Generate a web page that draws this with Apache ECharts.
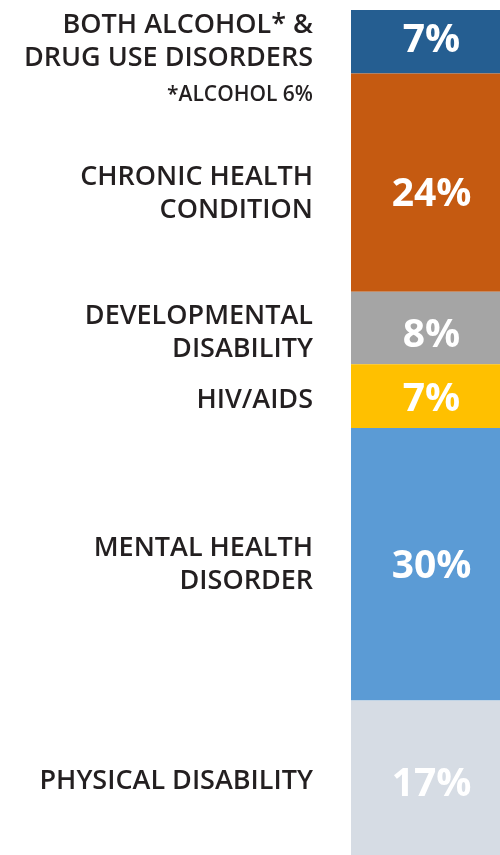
<!DOCTYPE html>
<html>
<head>
<meta charset="utf-8">
<script src="https://cdn.jsdelivr.net/npm/echarts@6/dist/echarts.min.js"></script>
<style>
  html, body { margin: 0; padding: 0; background: #fff; }
  #chart { width: 500px; height: 855px; }
</style>
</head>
<body>
<div id="chart"></div>
<script>
const categories = [
  'BOTH ALCOHOL* &\nDRUG USE DISORDERS',
  'CHRONIC HEALTH\nCONDITION',
  'DEVELOPMENTAL\nDISABILITY',
  'HIV/AIDS',
  'MENTAL HEALTH\nDISORDER',
  'PHYSICAL DISABILITY'
];
const values = [7, 24, 8, 7, 30, 17];
const notes = ['*ALCOHOL 6%', '', '', '', '', ''];
const colors = ['#255e91', '#c55a11', '#a5a5a5', '#ffc000', '#5b9bd5', '#d6dce4'];

// small vertical nudges so the labels sit where the original puts them
const nameNudge = [20, 11, 5, 4, 1, 4];
const pctNudge = [-1, 12, 8, 4, 3, 7];

const chart = echarts.init(document.getElementById('chart'));
const total = values.reduce((a, b) => a + b, 0);
const font = '"Open Sans", Lato, sans-serif';

const series = [];
// visible bars with the percent inside
values.forEach((v, i) => {
  series.push({
    name: categories[i],
    type: 'bar',
    stack: 'bars',
    barCategoryGap: 0,
    barGap: '-100%',
    data: [v],
    itemStyle: { color: colors[i] },
    label: {
      show: true,
      position: 'inside',
      offset: [6, pctNudge[i]],
      formatter: '{c}%',
      color: '#fff',
      fontFamily: font,
      fontWeight: 'bold',
      fontSize: 39
    },
    silent: true
  });
});
// transparent twin stack carrying the category names on the left
values.forEach((v, i) => {
  series.push({
    type: 'bar',
    stack: 'names',
    barCategoryGap: 0,
    barGap: '-100%',
    data: [v],
    itemStyle: { color: 'transparent' },
    label: {
      show: true,
      position: 'left',
      distance: 38,
      offset: [0, nameNudge[i]],
      formatter: () => notes[i] ? '{t|' + categories[i] + '}\n{n|' + notes[i] + '}' : '{t|' + categories[i] + '}',
      align: 'right',
      rich: {
        t: { fontFamily: font, fontWeight: 600, fontSize: 27, lineHeight: 33, color: '#231f20', align: 'right' },
        n: { fontFamily: font, fontWeight: 600, fontSize: 21, lineHeight: 40, color: '#231f20', align: 'right' }
      }
    },
    silent: true
  });
});

chart.setOption({
  animation: false,
  grid: { left: 351, right: 0, top: 10, bottom: 0 },
  xAxis: { type: 'category', data: [''], show: false },
  yAxis: { type: 'value', min: 0, max: total, inverse: true, show: false },
  series
});
</script>
</body>
</html>
